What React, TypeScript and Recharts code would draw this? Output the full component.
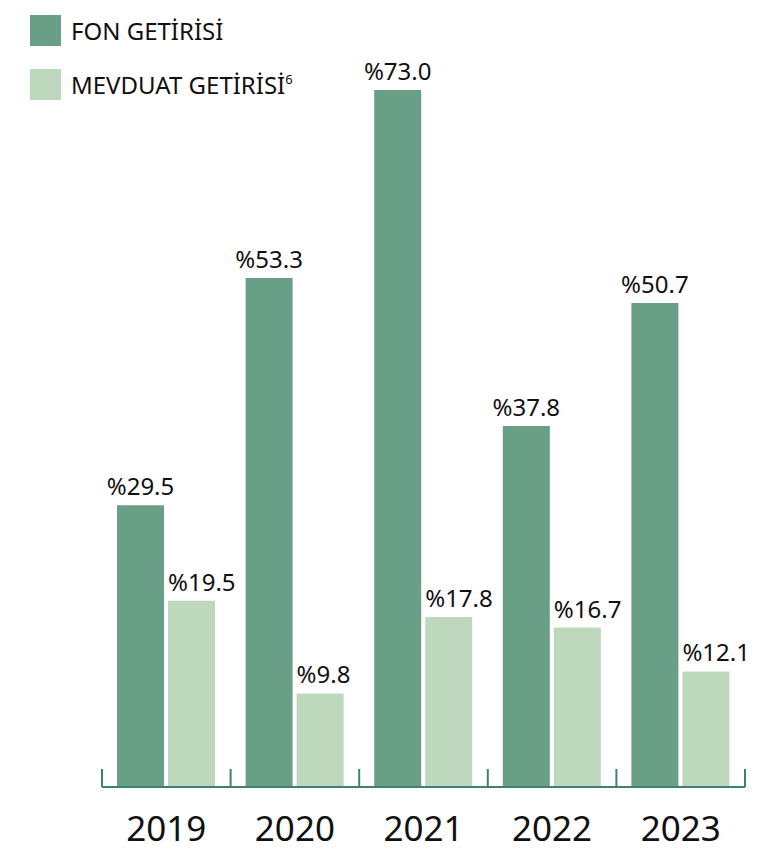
import React from 'react';
import { BarChart, Bar, XAxis, YAxis, LabelList } from 'recharts';

const years = ['2019', '2020', '2021', '2022', '2023'];
const fonGetirisi = [29.5, 53.3, 73.0, 37.8, 50.7];
const mevduatGetirisi = [19.5, 9.8, 17.8, 16.7, 12.1];
const seriesNames = ['FON GETİRİSİ', 'MEVDUAT GETİRİSİ'];
const seriesSup = ['', '6'];

const DARK = '#6a9f87';
const LIGHT = '#bdd8bd';
const AXIS = '#3e7f78';
const TEXT = '#111111';
const FONT = '"Source Sans Pro", "Noto Sans", sans-serif';

const data = years.map((y, i) => ({ year: y, fon: fonGetirisi[i], mevduat: mevduatGetirisi[i] }));

const fmt = (v: number) => '%' + v.toFixed(1);

const YearTick = (props: any) => {
  const { x, y, payload, index, visibleTicksCount } = props;
  const off = payload && payload.offset ? payload.offset : 64.3;
  const last = index === (visibleTicksCount ?? years.length) - 1;
  return (
    <g>
      <line x1={x - off} x2={x - off} y1={y} y2={y - 18} stroke={AXIS} strokeWidth={2} />
      {last && <line x1={x + off} x2={x + off} y1={y} y2={y - 18} stroke={AXIS} strokeWidth={2} />}
      <text x={x} y={y + 54} textAnchor="middle" fontSize={35} fill={TEXT} fontFamily={FONT}>
        {payload.value}
      </text>
    </g>
  );
};

const LightLabel = (props: any) => {
  const { x, y, value } = props;
  return (
    <text x={x} y={y - 10} textAnchor="start" fontSize={24} fill={TEXT} fontFamily={FONT}>
      {fmt(value)}
    </text>
  );
};

const DarkLabel = (props: any) => {
  const { x, y, width, value } = props;
  return (
    <text x={x + width / 2} y={y - 10} textAnchor="middle" fontSize={24} fill={TEXT} fontFamily={FONT}>
      {fmt(value)}
    </text>
  );
};

const LegendBox = () => {
  const colors = [DARK, LIGHT];
  return (
    <div style={{ position: 'absolute', left: 30, top: 15, fontFamily: FONT }}>
      {seriesNames.map((n, i) => (
        <div key={n} style={{ display: 'flex', alignItems: 'center', height: 31, marginBottom: i === 0 ? 23 : 0 }}>
          <div style={{ width: 31, height: 31, background: colors[i], marginRight: 10 }} />
          <span style={{ fontSize: 24, color: TEXT, lineHeight: '31px', whiteSpace: 'nowrap' }}>
            {n}
            {seriesSup[i] && <sup style={{ fontSize: 13, verticalAlign: 'top', lineHeight: '20px' }}>{seriesSup[i]}</sup>}
          </span>
        </div>
      ))}
    </div>
  );
};

export default function App() {
  return (
    <div style={{ position: 'absolute', left: 0, top: 0, width: 759, height: 852, background: '#fff' }}>
      <BarChart
        width={759}
        height={852}
        data={data}
        margin={{ top: 90, right: 14, left: 102, bottom: 0 }}
        barSize={47}
        barGap={4}
      >
        <XAxis
          dataKey="year"
          height={65}
          interval={0}
          tickLine={false}
          tickSize={0}
          tickMargin={0}
          axisLine={{ stroke: AXIS, strokeWidth: 2 }}
          tick={<YearTick />}
        />
        <YAxis hide domain={[0, 73]} />
        <Bar dataKey="fon" fill={DARK} isAnimationActive={false}>
          <LabelList dataKey="fon" content={<DarkLabel />} />
        </Bar>
        <Bar dataKey="mevduat" fill={LIGHT} isAnimationActive={false}>
          <LabelList dataKey="mevduat" content={<LightLabel />} />
        </Bar>
      </BarChart>
      <LegendBox />
    </div>
  );
}
